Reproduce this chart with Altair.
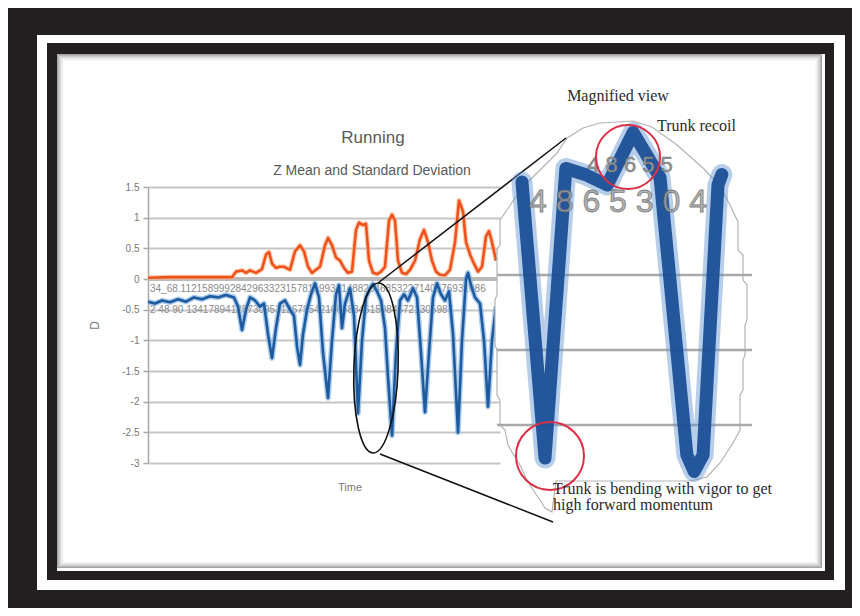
import altair as alt
import pandas as pd

# ---------------- data ----------------
std_time = [0, 22, 52, 84, 88, 94, 98, 102, 108, 114, 118, 121, 124, 128, 132, 136, 142, 147, 152, 156,
            160, 164, 168, 172, 177, 180, 184, 188, 192, 196, 200, 204, 208, 211, 215, 218, 221, 225, 229,
            233, 237, 241, 244, 247, 250, 254, 258, 262, 267, 272, 276, 280, 284, 288, 292, 297, 302, 307,
            311, 315, 318, 322, 326, 330, 334, 338, 341, 344, 348]
std_value = [0.02, 0.03, 0.03, 0.03, 0.12, 0.14, 0.10, 0.14, 0.10, 0.16, 0.40, 0.44, 0.25, 0.18, 0.20,
             0.20, 0.15, 0.45, 0.55, 0.45, 0.20, 0.10, 0.15, 0.20, 0.55, 0.67, 0.55, 0.35, 0.30, 0.18,
             0.10, 0.12, 0.80, 0.92, 0.88, 0.90, 0.30, 0.10, 0.08, 0.12, 0.20, 0.95, 1.05, 0.95, 0.30,
             0.10, 0.08, 0.15, 0.30, 0.65, 0.80, 0.60, 0.30, 0.12, 0.07, 0.06, 0.15, 0.60, 1.28, 1.10,
             0.60, 0.40, 0.25, 0.12, 0.20, 0.70, 0.78, 0.60, 0.30]

mean_time = [0, 7, 14, 22, 30, 38, 46, 54, 62, 70, 78, 86, 90, 94, 98, 102, 107, 112, 116, 120, 124,
             128, 132, 137, 142, 146, 149, 152, 155, 159, 163, 167, 171, 175, 180, 184, 188, 191, 194,
             197, 202, 206, 210, 214, 218, 222, 225, 229, 233, 237, 240, 244, 248, 252, 256, 260, 265,
             269, 273, 277, 281, 285, 289, 293, 297, 301, 305, 310, 314, 318, 320, 323, 327, 332, 336,
             340, 344, 348]
mean_value = [-0.37, -0.40, -0.35, -0.38, -0.33, -0.37, -0.30, -0.33, -0.28, -0.30, -0.26, -0.30, -0.45,
              -0.83, -0.50, -0.30, -0.35, -0.45, -0.40, -0.90, -1.29, -0.80, -0.40, -0.35, -0.50, -0.60,
              -1.10, -1.40, -0.90, -0.50, -0.25, -0.07, -0.30, -1.20, -1.94, -1.00, -0.25, -0.10, -0.80,
              -0.40, -0.15, -0.60, -2.19, -1.00, -0.30, -0.15, -0.08, -0.20, -0.35, -0.80, -1.60, -2.55,
              -1.20, -0.35, -0.25, -0.35, -0.15, -0.30, -1.20, -2.17, -1.20, -0.30, -0.07, -0.25, -0.35,
              -0.20, -0.90, -2.50, -1.00, 0.00, 0.10, -0.10, -0.30, -0.40, -1.00, -2.08, -1.00, -0.45]

# magnified view
mag_time = [204.6, 210.0, 214.9, 219.4, 224.6, 230.7, 237.0, 243.3, 245.0, 247.1, 250.6, 251.5]
mag_value = [-0.38, -2.22, -0.29, -0.33, -0.40, -0.05, -0.35, -2.20, -2.31, -2.20, -0.40, -0.33]
mag_grid = [-1.0, -1.5, -2.0]

y_ticks = [1.5, 1, 0.5, 0, -0.5, -1, -1.5, -2, -2.5, -3]

cat_row1 = "34_68.1121589992842963323157815993414882646853227140576931086"
cat_row2 = "2 48 90 134178941257309531267954210658846159846721305987"

# ---------------- layout helpers (page pixel -> view pixel) ----------------
OX, OY = 148, 187
W, H = 352, 276


def px(x):
    return x - OX


def py(y):
    return y - OY


one = pd.DataFrame({"k": [0]})
SANS = "Liberation Sans"
SERIF = "Liberation Serif"


def band(x1, y1, x2, y2, color="#231f20"):
    return alt.Chart(one).mark_rect(color=color, strokeWidth=0).encode(
        x=alt.value(px(x1)), x2=alt.value(px(x2)), y=alt.value(py(y1)), y2=alt.value(py(y2)))


def outline(x1, y1, x2, y2, color, op):
    return alt.Chart(one).mark_rect(filled=False, stroke=color, strokeWidth=1, strokeOpacity=op).encode(
        x=alt.value(px(x1)), x2=alt.value(px(x2)), y=alt.value(py(y1)), y2=alt.value(py(y2)))


def label(txt, x, y, size, font=SANS, color="#595959", align="center", **kw):
    return alt.Chart(one).mark_text(text=txt, fontSize=size, font=font, color=color, align=align,
                                    baseline="alphabetic", **kw).encode(
        x=alt.value(px(x)), y=alt.value(py(y)))


def seg(x1, y1, x2, y2, color="#111111", w=1.5):
    return alt.Chart(one).mark_rule(color=color, strokeWidth=w).encode(
        x=alt.value(px(x1)), y=alt.value(py(y1)), x2=alt.value(px(x2)), y2=alt.value(py(y2)))


# ---------------- frame ----------------
frame = [
    band(8, 8, 852, 35), band(8, 590, 852, 608), band(8, 8, 37, 608), band(845, 8, 852, 608),
    band(47, 43, 834, 54), band(47, 571, 834, 580), band(47, 43, 57, 580), band(825, 43, 834, 580),
]
shadow_ops = [0.55, 0.42, 0.30, 0.21, 0.14, 0.08, 0.04]
for i, op in enumerate(shadow_ops):
    frame.append(outline(57.5 + i, 54.5 + i, 821.5 - i, 567.5 - i, "#555555", op))

# ---------------- main chart ----------------
x_main = alt.X("t:Q", scale=alt.Scale(domain=[0, W], nice=False, zero=False), axis=None)
y_axis = alt.Axis(values=y_ticks, title="D", grid=True, gridColor="#c6c6c6", gridWidth=2,
                  domainColor="#a8a8a8", domainWidth=1.5, tickColor="#a8a8a8", tickSize=5,
                  tickWidth=1.5, labelColor="#777777", labelFontSize=10, labelFont=SANS,
                  labelPadding=4, labelExpr="'' + datum.value", titleColor="#777777",
                  titleFont=SANS, titleFontSize=12, titleFontWeight="normal", titlePadding=20)
y_main = alt.Y("v:Q", scale=alt.Scale(domain=[-3, 1.5], nice=False, zero=False), axis=y_axis)

std_df = pd.DataFrame({"t": std_time, "v": std_value})
mean_df = pd.DataFrame({"t": mean_time, "v": mean_value})

zero_line = alt.Chart(pd.DataFrame({"v": [0.0]})).mark_rule(color="#b9b9b9", strokeWidth=4).encode(y=y_main)
std_glow = alt.Chart(std_df).mark_line(color="#ffb380", strokeWidth=5, opacity=0.6,
                                       strokeJoin="round").encode(x=x_main, y=y_main)
std_line = alt.Chart(std_df).mark_line(color="#f0521f", strokeWidth=2.6,
                                       strokeJoin="round").encode(x=x_main, y=y_main)
mean_glow = alt.Chart(mean_df).mark_line(color="#86b5e3", strokeWidth=5.5, opacity=0.7,
                                         strokeJoin="round").encode(x=x_main, y=y_main)
mean_line = alt.Chart(mean_df).mark_line(color="#1d5a9e", strokeWidth=2.6,
                                         strokeJoin="round").encode(x=x_main, y=y_main)
main = alt.layer(zero_line, std_glow, std_line, mean_glow, mean_line)

cats = [label(cat_row1, 150, 292, 10, color="#8a8a8a", align="left"),
        label(cat_row2, 150, 313, 10, color="#8a8a8a", align="left")]

ELLIPSE = ("M 0 -1 C 0.1436 -1 0.26 -0.5523 0.26 0 C 0.26 0.5523 0.1436 1 0 1 "
           "C -0.1436 1 -0.26 0.5523 -0.26 0 C -0.26 -0.5523 -0.1436 -1 0 -1 Z")
ellipse = alt.Chart(one).mark_point(shape=ELLIPSE, size=28900, filled=False, stroke="#111111",
                                    strokeWidth=1.6, opacity=1, angle=2).encode(
    x=alt.value(px(376)), y=alt.value(py(368)))

# ---------------- magnified panel ----------------
PANEL = ("M -0.27 -0.895 L -0.19 -0.945 L -0.105 -0.97 L 0.06 -0.98 L 0.155 -0.95 L 0.28 -0.86 "
         "L 0.41 -0.745 L 0.495 -0.655 L 0.545 -0.56 L 0.585 -0.475 L 0.585 -0.335 L 0.61 -0.31 "
         "L 0.61 -0.185 L 0.63 -0.16 L 0.63 0.015 L 0.62 0.04 L 0.62 0.19 L 0.61 0.215 L 0.61 0.365 "
         "L 0.595 0.39 L 0.595 0.565 L 0.56 0.63 L 0.495 0.73 L 0.43 0.8 L 0.345 0.82 L -0.325 0.82 "
         "L -0.345 0.975 L -0.38 0.955 L -0.405 0.915 L -0.44 0.865 L -0.475 0.805 L -0.505 0.74 "
         "L -0.545 0.675 L -0.565 0.64 L -0.58 0.565 L -0.605 0.54 L -0.605 0.415 L -0.62 0.39 "
         "L -0.62 0.165 L -0.63 0.14 L -0.63 -0.085 L -0.62 -0.11 L -0.62 -0.335 L -0.605 -0.36 "
         "L -0.605 -0.485 L -0.57 -0.535 L -0.53 -0.595 L -0.49 -0.65 L -0.405 -0.735 L -0.32 -0.82 Z")
panel = alt.Chart(one).mark_point(shape=PANEL, size=160000, filled=True, fill="white",
                                  stroke="#b3b3b3", strokeWidth=1.2, opacity=1).encode(
    x=alt.value(px(621)), y=alt.value(py(317)))

x_mag = alt.X("t:Q", scale=alt.Scale(domain=[200, 256], range=[px(502.4), px(741.0)],
                                     nice=False, zero=False), axis=None)
y_mag = alt.Y("v:Q", scale=alt.Scale(domain=[-3, 0.5], range=[py(575), py(50)],
                                     nice=False, zero=False), axis=None)
mag_df = pd.DataFrame({"t": mag_time, "v": mag_value})

mag_rules = alt.Chart(pd.DataFrame({"v": mag_grid})).mark_rule(color="#a9a9a9", strokeWidth=2.5).encode(
    y=y_mag, x=alt.value(px(497)), x2=alt.value(px(752)))
mag_glow = alt.Chart(mag_df).mark_line(color="#5d93cf", strokeWidth=21, opacity=0.45,
                                       strokeJoin="round", strokeCap="round").encode(x=x_mag, y=y_mag)
mag_line = alt.Chart(mag_df).mark_line(color="#1c4f97", strokeWidth=13, opacity=0.95,
                                       strokeJoin="round", strokeCap="round").encode(x=x_mag, y=y_mag)
mag = alt.layer(mag_rules, mag_glow, mag_line)

digits1 = label("4  8  6  5  5", 630, 172, 22, color="#9a9a9a", stroke="#6f6f6f", strokeWidth=0.5)
digits2 = label("4 8 6 5 3 0 4", 618, 212, 32, color="#a5a5a5", stroke="#6a6a6a", strokeWidth=0.8,
                opacity=0.85)

circ_top = alt.Chart(one).mark_point(shape="circle", size=4096, filled=False, stroke="#dc2f45",
                                     strokeWidth=2, opacity=1).encode(x=alt.value(px(628)), y=alt.value(py(157)))
circ_bot = alt.Chart(one).mark_point(shape="circle", size=4624, filled=False, stroke="#dc2f45",
                                     strokeWidth=2, opacity=1).encode(x=alt.value(px(550)), y=alt.value(py(456)))

connectors = [seg(378, 283, 566, 138), seg(380, 454, 553, 522)]

texts = [
    label("Running", 373, 143, 17),
    label("Z Mean and Standard Deviation", 372, 175, 14),
    label("Time", 350, 491, 11, color="#777777"),
    label("Magnified view", 618, 101, 16, font=SERIF, color="#2a2a2a"),
    label("Trunk recoil", 657, 131, 16, font=SERIF, color="#2a2a2a", align="left"),
    label("Trunk is bending with vigor to get", 553, 494, 16, font=SERIF, color="#2a2a2a", align="left"),
    label("high forward momentum", 553, 510, 16, font=SERIF, color="#2a2a2a", align="left"),
]

chart = alt.layer(
    *frame, *cats, main, ellipse, panel, *connectors, mag, digits1, digits2, circ_top, circ_bot, *texts
).resolve_scale(x="independent", y="independent").properties(
    width=W, height=H, padding=0, background="white"
).configure_view(strokeWidth=0)

chart.save("out.html", embed_options={"renderer": "svg", "actions": False})
